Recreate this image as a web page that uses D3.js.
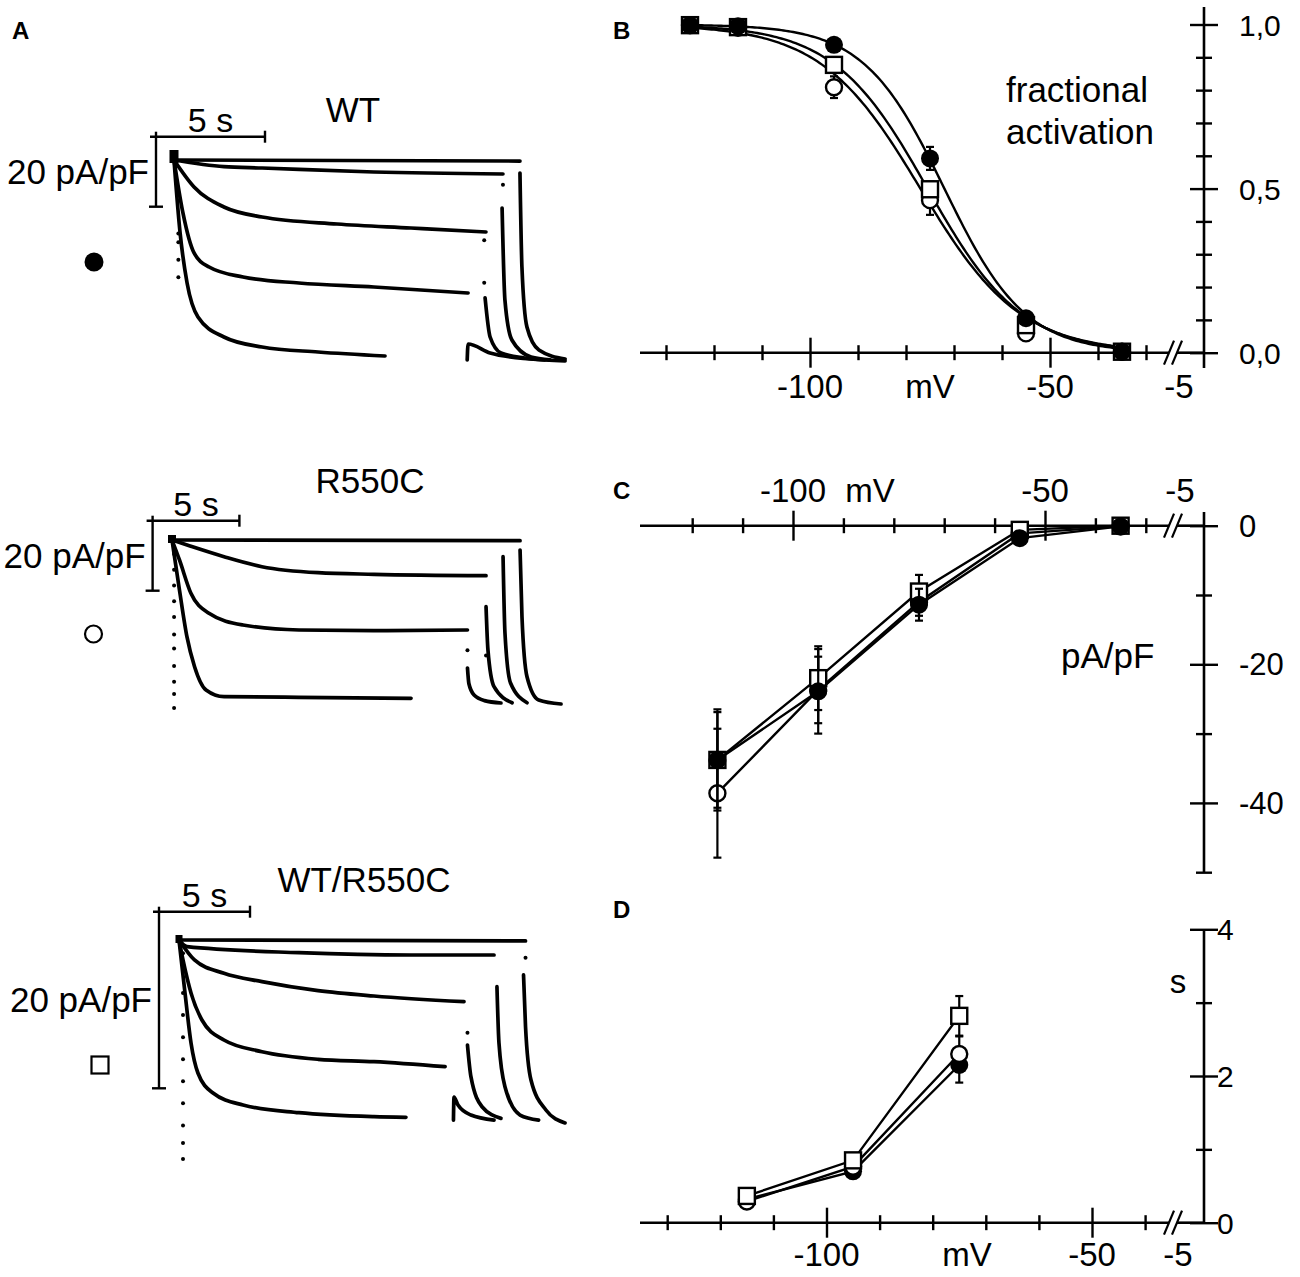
<!DOCTYPE html>
<html>
<head>
<meta charset="utf-8">
<title>HCN currents WT / R550C</title>
<script src="https://d3js.org/d3.v7.min.js"></script>
<style>
  body { margin: 0; background: #fff; }
  svg text { font-family: Arial, "Liberation Sans", sans-serif; fill: #000; }
</style>
</head>
<body>
<script>

// ---------- Panel A: current traces, [time s, current pA/pF] ----------
var wtSweeps = [
  [[0,0],[15.87,-0.3]],
  [[0,0],[2.29,-1.9],[4.04,-2.29],[9.17,-3.43],[15.09,-4.0]],
  [[0,0],[0.92,-7.71],[2.29,-13.43],[4.04,-16.29],[7.48,-18.29],[10.87,-19.43],[14.31,-20.57]],
  [[0,0],[0.41,-15.14],[0.92,-26.57],[1.61,-30.57],[3.17,-33.43],[5.73,-35.14],[9.17,-36.29],[13.49,-38.0]],
  [[0,0],[0.28,-20.86],[0.60,-35.14],[1.10,-44.86],[2.29,-50.57],[4.04,-53.43],[6.61,-54.86],[9.68,-56.0]]
];
var wtTails = [
  [[13.45,-57.1],[13.49,-52.57],[14.50,-55.14],[16.33,-56.86],[17.94,-57.43]],
  [[14.27,-39.4],[14.50,-50.57],[15.0,-55.14],[16.06,-56.57],[17.0,-57.1]],
  [[15.05,-13.71],[15.18,-40.0],[15.50,-51.43],[16.38,-56.29],[17.25,-57.1]],
  [[15.87,-3.71],[15.96,-30.57],[16.19,-47.71],[16.74,-54.29],[17.94,-56.86]]
];
var wtDots = [[0.2,-21],[0.2,-23.5],[0.2,-28.5],[0.2,-33.5],[15.09,-7.1],[14.23,-22.9],[14.23,-35.1]];

var mutSweeps = [
  [[0,0],[20.05,-0.2]],
  [[0,0],[1.04,-1.71],[3.0,-4.77],[5.18,-7.63],[8.41,-9.34],[11.64,-9.8],[18.09,-10.2]],
  [[0,0],[0.43,-5.71],[1.09,-15.23],[2.13,-20.94],[4.09,-24.29],[7.32,-25.71],[11.64,-25.91],[17.02,-25.71]],
  [[0,0],[0.43,-14.29],[0.86,-27.63],[1.30,-36.2],[1.96,-42.86],[3.0,-44.77],[7.32,-44.94],[13.77,-45.23]]
];
var mutTails = [
  [[17.02,-36.57],[17.1,-41.0],[17.4,-44.3],[18.0,-45.9],[18.95,-46.57]],
  [[18.09,-19.06],[18.20,-31.43],[18.55,-41.91],[19.59,-46.49]],
  [[19.07,-4.77],[19.18,-26.57],[19.50,-40.86],[20.45,-46.49]],
  [[20.05,-2.86],[20.16,-21.91],[20.45,-39.06],[21.12,-45.71],[22.41,-46.86]]
];
var mutDots = [[0.12,-4],[0.12,-8.5],[0.12,-13],[0.12,-17.5],[0.12,-22],[0.12,-27],[0.12,-31],
               [0.12,-36],[0.12,-40.5],[0.12,-44],[0.12,-48],[17.02,-31.5],[18.09,-33]];

var hetSweeps = [
  [[0,0],[19.04,-0.11]],
  [[0,0],[0.44,-0.76],[6.59,-1.44],[12.75,-1.70],[17.31,-1.70]],
  [[0,0],[0.85,-2.26],[2.47,-3.77],[4.56,-4.72],[7.64,-5.74],[10.71,-6.34],[15.66,-6.99]],
  [[0,0],[0.22,-2.26],[0.66,-6.0],[1.26,-9.06],[2.47,-11.33],[4.56,-12.65],[7.64,-13.51],[10.71,-13.78],[14.62,-14.35]],
  [[0,0],[0.33,-6.0],[0.66,-11.66],[1.04,-15.06],[1.87,-17.33],[3.52,-18.69],[6.59,-19.56],[10.71,-20.01],[12.47,-20.08]]
];
var hetTails = [
  [[15.08,-20.4],[15.11,-17.78],[15.33,-18.69],[16.04,-19.82],[17.31,-20.39]],
  [[15.85,-11.89],[16.04,-15.48],[16.65,-18.88],[17.69,-20.2]],
  [[17.47,-5.29],[17.58,-11.66],[17.91,-16.61],[18.74,-19.82],[19.76,-20.39]],
  [[18.93,-3.96],[19.04,-9.82],[19.34,-15.86],[20.16,-19.25],[21.21,-20.72]]
];
var hetDots = [[0.22,-1.5],[0.22,-3.5],[0.22,-6],[0.22,-8.5],[0.22,-11],[0.22,-13.5],[0.22,-16],
               [0.22,-18.5],[0.22,-21],[0.22,-23],[0.22,-24.8],[19.04,-2.0],[15.85,-10.5]];

// ---------- Panel B: fractional activation ----------
var voltB = [-125, -115, -95, -75, -55, -35];
var actWT = [0.998, 0.995, 0.938, 0.592, 0.105, 0.003];
var actMut = [0.998, 0.99, 0.809, 0.465, 0.059, 0.003];
var actHet = [0.998, 0.992, 0.877, 0.498, 0.084, 0.003];
var actErrWT = [0, 0, 0.01, 0.035, 0.012, 0];
var actErrMut = [0, 0, 0.033, 0.045, 0.012, 0];
var actErrHet = [0, 0, 0.015, 0.023, 0.01, 0];
// Boltzmann fit: V1/2 and slope (mV), order WT, R550C, WT/R550C
var fitVhalf = [-72, -77, -75.5];
var fitSlope = [8.4, 10.4, 9.8];

// ---------- Panel C: current density ----------
var voltC = [-115, -95, -75, -55, -35];
var curWT = [-33.8, -23.9, -11.4, -1.8, -0.1];
var curMut = [-38.6, -23.7, -11.0, -1.1, -0.1];
var curHet = [-33.8, -22.0, -9.5, -0.6, 0];
var curErrWT = [6.9, 6.1, 2.3, 0.4, 0];
var curErrMut = [9.3, 4.8, 2.0, 0.4, 0];
var curErrHet = [7.3, 4.6, 2.4, 0.3, 0];

// ---------- Panel D: activation time constant ----------
var voltD = [-115, -95, -75];
var tauWT = [0.32, 0.70, 2.15];
var tauMut = [0.29, 0.765, 2.30];
var tauHet = [0.365, 0.85, 2.82];
var tauErrWT = [0.03, 0.04, 0.24];
var tauErrMut = [0.03, 0.04, 0.24];
var tauErrHet = [0.03, 0.04, 0.27];

var xTicksMv = [-130, -120, -110, -100, -90, -80, -70, -60, -50, -40, -30];

var svg = d3.select("body").append("svg")
    .attr("width", 1300)
    .attr("height", 1277);
svg.append("rect").attr("width", 1300).attr("height", 1277).attr("fill", "#fff");

function panelLetter(t, x, y) {
  svg.append("text").attr("x", x).attr("y", y)
     .style("font-size", "24px").style("font-weight", "bold").text(t);
}

// ===== Panel A =====
panelLetter("A", 12, 39);

var groups = [
  {title: "WT", sweeps: wtSweeps, tails: wtTails, dots: wtDots, sym: "filled",
   x0: 174, pxPerS: 21.8, y0: 160, pxPerUnit: 3.5, barX: 156, barY: 136.7,
   titleX: 353, titleY: 122, symX: 94, symY: 262, blob: [9, 13]},
  {title: "R550C", sweeps: mutSweeps, tails: mutTails, dots: mutDots, sym: "open",
   x0: 172, pxPerS: 17.36, y0: 540, pxPerUnit: 3.5, barX: 152.6, barY: 520.7,
   titleX: 370, titleY: 493, symX: 93.5, symY: 634, blob: [8, 8]},
  {title: "WT/R550C", sweeps: hetSweeps, tails: hetTails, dots: hetDots, sym: "square",
   x0: 179, pxPerS: 18.2, y0: 940, pxPerUnit: 8.83, barX: 159, barY: 911.7,
   titleX: 364, titleY: 892, symX: 100, symY: 1065, blob: [7, 8]}
];

groups.forEach(function(gr) {
  var g = svg.append("g");
  var x = d3.scaleLinear().domain([0, 5]).range([gr.x0, gr.x0 + 5 * gr.pxPerS]);
  var y = d3.scaleLinear().domain([0, -20]).range([gr.y0, gr.y0 + 20 * gr.pxPerUnit]);
  var line = d3.line()
      .x(function(d) { return x(d[0]); })
      .y(function(d) { return y(d[1]); })
      .curve(d3.curveMonotoneX);

  g.selectAll(".sweep")
    .data(gr.sweeps.concat(gr.tails))
    .enter().append("path")
    .attr("d", line)
    .attr("fill", "none")
    .attr("stroke", "#000")
    .attr("stroke-width", 3.7)
    .attr("stroke-linecap", "round")
    .attr("stroke-linejoin", "round");

  g.selectAll(".dot")
    .data(gr.dots)
    .enter().append("circle")
    .attr("cx", function(d) { return x(d[0]); })
    .attr("cy", function(d) { return y(d[1]); })
    .attr("r", 2)
    .attr("fill", "#000");

  // capacitive blob at pulse onset
  g.append("rect")
    .attr("x", x(0) - gr.blob[0] / 2)
    .attr("y", y(0) - gr.blob[1] + 3)
    .attr("width", gr.blob[0])
    .attr("height", gr.blob[1])
    .attr("fill", "#000");

  // scale bars: 5 s and 20 pA/pF
  var lenT = x(5) - x(0), lenI = y(-20) - y(0);
  var bx = gr.barX, by = gr.barY;
  var bar = g.append("g").attr("stroke", "#000").attr("stroke-width", 2.4);
  bar.append("line").attr("x1", bx - 6).attr("x2", bx + lenT).attr("y1", by).attr("y2", by);
  bar.append("line").attr("x1", bx + lenT).attr("x2", bx + lenT).attr("y1", by - 6).attr("y2", by + 6);
  bar.append("line").attr("x1", bx).attr("x2", bx).attr("y1", by - 5).attr("y2", by + lenI);
  bar.append("line").attr("x1", bx - 7).attr("x2", bx + 7).attr("y1", by + lenI).attr("y2", by + lenI);

  g.append("text").attr("x", bx + lenT / 2).attr("y", by - 5)
    .attr("text-anchor", "middle").style("font-size", "34px").text("5 s");
  g.append("text").attr("x", bx - 7).attr("y", by + lenI / 2 + 12)
    .attr("text-anchor", "end").style("font-size", "35px").text("20 pA/pF");
  g.append("text").attr("x", gr.titleX).attr("y", gr.titleY)
    .attr("text-anchor", "middle").style("font-size", "35px").text(gr.title);

  if (gr.sym === "filled") {
    g.append("circle").attr("cx", gr.symX).attr("cy", gr.symY).attr("r", 9.5).attr("fill", "#000");
  } else if (gr.sym === "open") {
    g.append("circle").attr("cx", gr.symX).attr("cy", gr.symY).attr("r", 8.5)
      .attr("fill", "#fff").attr("stroke", "#000").attr("stroke-width", 2.2);
  } else {
    g.append("rect").attr("x", gr.symX - 8.5).attr("y", gr.symY - 8.5).attr("width", 17).attr("height", 17)
      .attr("fill", "#fff").attr("stroke", "#000").attr("stroke-width", 2.2);
  }
});

// ===== shared axis helpers =====
var axisRightX = 1204, axisLeftX = 640, breakX = 1173;

function drawAxes(g, o) {
  var st = g.append("g").attr("stroke", "#000").attr("stroke-width", 2.6);
  st.append("line").attr("x1", axisLeftX).attr("x2", breakX - 4).attr("y1", o.y0).attr("y2", o.y0);
  st.append("line").attr("x1", breakX + 4).attr("x2", axisRightX).attr("y1", o.y0).attr("y2", o.y0);
  [-4, 4].forEach(function(dx) {
    st.append("line").attr("x1", breakX + dx - 5).attr("y1", o.y0 + 12)
      .attr("x2", breakX + dx + 5).attr("y2", o.y0 - 12).attr("stroke-width", 2.2);
  });
  st.append("line").attr("x1", axisRightX).attr("x2", axisRightX).attr("y1", o.yTop).attr("y2", o.yBottom);

  var ax = g.append("g").attr("transform", "translate(0," + o.y0 + ")")
    .call(d3.axisBottom(o.x).tickValues(o.xTicks).tickFormat("").tickSizeOuter(0));
  ax.select(".domain").remove();
  ax.selectAll(".tick line")
    .attr("y1", function(d) { return o.xMajor.indexOf(d) >= 0 ? -15 : -7.5; })
    .attr("y2", function(d) { return o.xMajor.indexOf(d) >= 0 ? 15 : 7.5; })
    .attr("stroke-width", 2.4);

  var ay = g.append("g").attr("transform", "translate(" + axisRightX + ",0)")
    .call(d3.axisRight(o.y).tickValues(o.yTicks).tickFormat("").tickSizeOuter(0));
  ay.select(".domain").remove();
  ay.selectAll(".tick line")
    .attr("x1", function(d) { return o.yMajor.indexOf(d) >= 0 ? -14 : -8; })
    .attr("x2", function(d) { return o.yMajor.indexOf(d) >= 0 ? 14 : 8; })
    .attr("stroke-width", 2.4);

  o.xLabels.forEach(function(l) {
    g.append("text").attr("x", l.x).attr("y", o.xLabelY).attr("text-anchor", "middle")
      .style("font-size", "33px").text(l.t);
  });
  o.yLabels.forEach(function(l) {
    g.append("text").attr("x", o.yLabelX).attr("y", o.y(l.v) + o.yLabelDy)
      .style("font-size", o.yFont + "px").text(l.t);
  });
}

function drawSeries(g, xs, vals, errs, x, y, sym, withLine) {
  var pts = xs.map(function(v, i) { return {x: v, y: vals[i], e: errs[i]}; });
  if (withLine) {
    g.append("path").datum(pts)
      .attr("d", d3.line().x(function(d) { return x(d.x); }).y(function(d) { return y(d.y); }))
      .attr("fill", "none").attr("stroke", "#000").attr("stroke-width", 2.4);
  }
  var eb = g.append("g").attr("stroke", "#000").attr("stroke-width", 2.2);
  pts.filter(function(d) { return d.e > 0; }).forEach(function(d) {
    var cx = x(d.x), y1 = y(d.y - d.e), y2 = y(d.y + d.e);
    eb.append("line").attr("x1", cx).attr("x2", cx).attr("y1", y1).attr("y2", y2);
    eb.append("line").attr("x1", cx - 4).attr("x2", cx + 4).attr("y1", y1).attr("y2", y1);
    eb.append("line").attr("x1", cx - 4).attr("x2", cx + 4).attr("y1", y2).attr("y2", y2);
  });
  var m = g.append("g");
  pts.forEach(function(d) {
    var cx = x(d.x), cy = y(d.y);
    if (sym === "filled") {
      m.append("circle").attr("cx", cx).attr("cy", cy).attr("r", 9).attr("fill", "#000");
    } else if (sym === "open") {
      m.append("circle").attr("cx", cx).attr("cy", cy).attr("r", 8)
        .attr("fill", "#fff").attr("stroke", "#000").attr("stroke-width", 2.4);
    } else {
      m.append("rect").attr("x", cx - 8).attr("y", cy - 8).attr("width", 16).attr("height", 16)
        .attr("fill", "#fff").attr("stroke", "#000").attr("stroke-width", 2.4);
    }
  });
}

// ===== Panel B =====
panelLetter("B", 613, 39);
var gB = svg.append("g");
var xB = d3.scaleLinear().domain([-100, -50]).range([810, 1050]);
var yB = d3.scaleLinear().domain([0, 1]).range([352.7, 24.5]);
var fmtComma = function(v) { return d3.format(".1f")(v).replace(".", ","); };

drawAxes(gB, {
  x: xB, y: yB, y0: yB(0), yTop: 7, yBottom: 368,
  xTicks: xTicksMv, xMajor: [-100, -50],
  yTicks: d3.range(0, 11).map(function(i) { return i / 10; }), yMajor: [0, 0.5, 1],
  xLabelY: 398,
  xLabels: [{t: "-100", x: xB(-100)}, {t: "mV", x: 930}, {t: "-50", x: xB(-50)}, {t: "-5", x: 1179}],
  yLabelX: 1239, yLabelDy: 11, yFont: 30,
  yLabels: [{v: 1, t: fmtComma(1)}, {v: 0.5, t: fmtComma(0.5)}, {v: 0, t: fmtComma(0)}]
});

// Boltzmann fit curves
var fitV = d3.range(voltB[0], voltB[voltB.length - 1] + 0.01, 0.5);
fitVhalf.forEach(function(vh, i) {
  var k = fitSlope[i];
  gB.append("path").datum(fitV)
    .attr("d", d3.line()
      .x(function(v) { return xB(v); })
      .y(function(v) { return yB(1 / (1 + Math.exp((v - vh) / k))); }))
    .attr("fill", "none").attr("stroke", "#000").attr("stroke-width", 2.4);
});
drawSeries(gB, voltB, actMut, actErrMut, xB, yB, "open", false);
drawSeries(gB, voltB, actHet, actErrHet, xB, yB, "square", false);
drawSeries(gB, voltB, actWT, actErrWT, xB, yB, "filled", false);

gB.append("text").attr("x", 1006).attr("y", 102).style("font-size", "35px").text("fractional");
gB.append("text").attr("x", 1006).attr("y", 144).style("font-size", "35px").text("activation");

// ===== Panel C =====
panelLetter("C", 613, 499);
var gC = svg.append("g");
var xC = d3.scaleLinear().domain([-100, -50]).range([793, 1045]);
var yC = d3.scaleLinear().domain([0, -20]).range([525.7, 664.3]);

drawAxes(gC, {
  x: xC, y: yC, y0: yC(0), yTop: 512, yBottom: yC(-50),
  xTicks: xTicksMv.slice(1), xMajor: [-100, -50],
  yTicks: [0, -10, -20, -30, -40, -50], yMajor: [0, -20, -40],
  xLabelY: 502,
  xLabels: [{t: "-100", x: xC(-100)}, {t: "mV", x: 870}, {t: "-50", x: xC(-50)}, {t: "-5", x: 1180}],
  yLabelX: 1239, yLabelDy: 11, yFont: 31,
  yLabels: [{v: 0, t: "0"}, {v: -20, t: "-20"}, {v: -40, t: "-40"}]
});
drawSeries(gC, voltC, curMut, curErrMut, xC, yC, "open", true);
drawSeries(gC, voltC, curHet, curErrHet, xC, yC, "square", true);
drawSeries(gC, voltC, curWT, curErrWT, xC, yC, "filled", true);
gC.append("text").attr("x", 1061).attr("y", 668).style("font-size", "35px").text("pA/pF");

// ===== Panel D =====
panelLetter("D", 613, 918);
var gD = svg.append("g");
var xD = d3.scaleLinear().domain([-100, -50]).range([826.5, 1092]);
var yD = d3.scaleLinear().domain([0, 2]).range([1222.7, 1076]);

drawAxes(gD, {
  x: xD, y: yD, y0: yD(0), yTop: yD(4), yBottom: yD(0),
  xTicks: xTicksMv.slice(0, 10), xMajor: [-100, -50],
  yTicks: [0, 1, 2, 3, 4], yMajor: [0, 2, 4],
  xLabelY: 1266,
  xLabels: [{t: "-100", x: xD(-100)}, {t: "mV", x: 967}, {t: "-50", x: xD(-50)}, {t: "-5", x: 1178}],
  yLabelX: 1217, yLabelDy: 11, yFont: 30,
  yLabels: [{v: 0, t: "0"}, {v: 2, t: "2"}, {v: 4, t: "4"}]
});
drawSeries(gD, voltD, tauWT, tauErrWT, xD, yD, "filled", true);
drawSeries(gD, voltD, tauMut, tauErrMut, xD, yD, "open", true);
drawSeries(gD, voltD, tauHet, tauErrHet, xD, yD, "square", true);
gD.append("text").attr("x", 1178).attr("y", 993).attr("text-anchor", "middle")
  .style("font-size", "33px").text("s");

</script>
</body>
</html>
